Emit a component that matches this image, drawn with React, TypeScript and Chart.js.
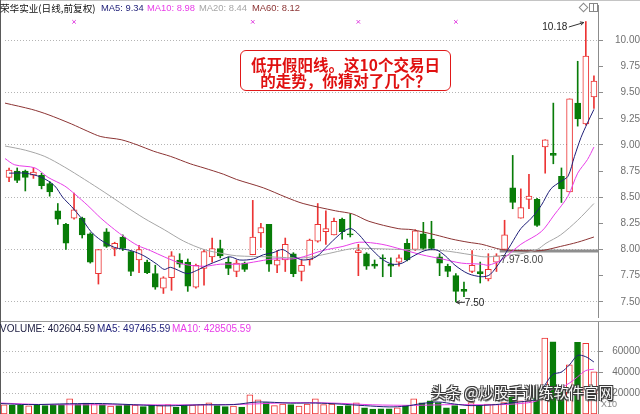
import React, { useEffect, useRef } from 'react';
import { Chart, registerables } from 'chart.js';
Chart.register(...registerables);

// ---------- data ----------
const opens = [8.69, 8.75, 8.75, 8.71, 8.71, 8.63, 8.37, 8.24, 8.30, 8.30, 8.15, 7.77, 8.17, 8.01, 8.12, 7.98, 7.90, 7.88, 7.77, 7.63,
  7.73, 7.90, 7.88, 7.64, 7.82, 7.93, 8.01, 7.88, 7.79, 7.87, 7.95, 8.16, 8.24, 7.85, 7.90, 7.96, 7.79, 7.90, 8.08, 8.17,
  8.14, 8.29, 8.15, 7.97, 7.96, 7.86, 7.92, 7.86, 7.88, 8.06, 8.00, 8.15, 8.10, 7.93, 7.84, 7.75, 7.62, 7.79, 7.79, 7.72,
  7.88, 8.00, 8.59, 8.30, 8.48, 8.48, 8.98, 8.92, 8.70, 8.55, 9.40, 9.20, 9.46];
const highs = [8.78, 8.78, 8.76, 8.78, 8.73, 8.65, 8.44, 8.25, 8.54, 8.31, 8.16, 8.00, 8.20, 8.07, 8.14, 7.98, 8.04, 7.90, 7.85, 7.74,
  7.98, 7.96, 7.91, 7.86, 8.00, 8.11, 8.09, 7.93, 7.90, 7.88, 8.47, 8.25, 8.24, 7.99, 8.11, 7.97, 7.90, 8.10, 8.44, 8.37,
  8.30, 8.30, 8.34, 8.05, 7.97, 7.90, 7.95, 7.92, 7.95, 8.10, 8.19, 8.26, 8.27, 7.96, 7.86, 7.77, 7.69, 7.99, 7.88, 7.96,
  7.96, 8.28, 8.90, 8.58, 8.72, 8.49, 9.05, 9.40, 8.78, 9.44, 9.80, 10.18, 9.66];
const lows = [8.65, 8.64, 8.56, 8.68, 8.58, 8.51, 8.24, 8.00, 8.29, 8.11, 7.87, 7.67, 8.02, 7.94, 7.99, 7.75, 7.78, 7.77, 7.62, 7.58,
  7.61, 7.83, 7.60, 7.63, 7.66, 7.88, 7.92, 7.76, 7.74, 7.79, 7.95, 8.02, 7.79, 7.78, 7.79, 7.74, 7.70, 7.85, 8.07, 8.05,
  8.14, 8.10, 8.12, 7.75, 7.81, 7.82, 7.74, 7.74, 7.84, 7.89, 7.99, 8.00, 8.00, 7.75, 7.74, 7.50, 7.55, 7.78, 7.68, 7.70,
  7.79, 8.00, 8.39, 8.30, 8.39, 8.22, 8.73, 8.82, 8.45, 8.55, 9.18, 9.19, 9.35];
const closes = [8.76, 8.66, 8.69, 8.74, 8.61, 8.55, 8.29, 8.06, 8.38, 8.14, 7.88, 8.00, 8.03, 8.06, 8.01, 7.79, 8.00, 7.78, 7.64, 7.73,
  7.94, 7.86, 7.65, 7.85, 7.98, 8.01, 7.94, 7.82, 7.87, 7.81, 8.12, 8.21, 7.86, 7.90, 8.05, 7.77, 7.85, 8.09, 8.24, 8.20,
  8.27, 8.17, 8.14, 7.99, 7.84, 7.84, 7.91, 7.84, 7.92, 7.90, 8.18, 8.01, 8.01, 7.87, 7.79, 7.60, 7.60, 7.85, 7.77, 7.81,
  7.94, 8.14, 8.45, 8.40, 8.51, 8.23, 9.05, 8.90, 8.58, 9.44, 9.25, 9.85, 9.61];
// volume in axis units (x10)
const volumes = [8700, 8200, 8200, 7800, 8500, 8000, 8500, 9000, 14500, 9500, 10500, 9800, 9000, 7500, 8000, 9000, 8500, 7000, 8500, 8000,
  9000, 6500, 8500, 8500, 9000, 10600, 8000, 7000, 7500, 6500, 18400, 13500, 11000, 8000, 9500, 9000, 7500, 9500, 14500, 9000,
  9500, 7400, 8000, 10600, 5800, 4800, 5000, 5000, 6000, 8000, 14500, 10600, 12700, 11000, 6000, 8000, 4500, 11000, 8000, 9500,
  9500, 11000, 16000, 12500, 12500, 23500, 72500, 69000, 22000, 47000, 68500, 67700, 40260];

// moving-average lines: [day index, value]
const ma5Pts = [[0, 8.73], [2, 8.73], [4, 8.69], [5.6, 8.61], [6.6, 8.50], [7.7, 8.41], [8.9, 8.30], [10.1, 8.17], [11.3, 8.09], [13, 8.02],
  [15, 7.99], [16.6, 7.94], [18.2, 7.86], [19.1, 7.81], [19.9, 7.83], [21.9, 7.77], [23.1, 7.80], [24.4, 7.85], [26, 7.90], [27.2, 7.93],
  [28.4, 7.90], [30.1, 7.91], [31.3, 7.95], [32.5, 7.97], [33.7, 8.00], [34.9, 7.94], [36.2, 7.90], [37.8, 7.93], [39.4, 8.05], [41.1, 8.17],
  [42.1, 8.20], [43.1, 8.14], [44.3, 8.03], [45.9, 7.91], [47.2, 7.86], [48.4, 7.87], [49.6, 7.93], [51.2, 7.99], [52.5, 8.00], [53.7, 7.94],
  [54.9, 7.85], [56.5, 7.77], [58.2, 7.74], [59.2, 7.76], [60.6, 7.90], [61.8, 8.05], [63, 8.20], [64.3, 8.30], [65.5, 8.42], [66.7, 8.58],
  [67.9, 8.65], [68.8, 8.70], [69.6, 8.89], [70.4, 9.07], [71.2, 9.21], [72, 9.34]];
const ma10Pts = [[-0.5, 8.87], [0.7, 8.81], [3.2, 8.78], [4.8, 8.69], [6.8, 8.61], [8.1, 8.53], [9.7, 8.42], [11.3, 8.30], [13, 8.19], [14.2, 8.12],
  [15.8, 8.04], [17.4, 7.99], [19.1, 7.93], [21.5, 7.86], [24, 7.84], [26, 7.86], [28.4, 7.86], [30.1, 7.88], [32.5, 7.91], [34.9, 7.91],
  [36.2, 7.93], [38.6, 7.99], [41.1, 8.03], [43.1, 8.07], [45.9, 8.05], [48.4, 8.00], [50.8, 7.95], [53.3, 7.91], [55.7, 7.87], [58.2, 7.86],
  [59, 7.85], [60.6, 7.90], [63, 8.05], [65.5, 8.17], [67.1, 8.33], [68.8, 8.51], [70, 8.73], [71.2, 8.86], [72, 8.98]];
const ma20Pts = [[-0.5, 8.99], [2, 8.95], [4.4, 8.89], [6.8, 8.79], [9.3, 8.67], [11.7, 8.55], [14.2, 8.42], [16.6, 8.30], [19.1, 8.19], [21.5, 8.08],
  [24, 8.00], [26.4, 7.96], [28, 7.94], [32.1, 7.93], [36.2, 7.92], [38.6, 7.95], [42.3, 8.01], [44.3, 8.01], [48.4, 8.00], [53.3, 7.99],
  [56.9, 7.95], [58.5, 7.93], [60.6, 7.94], [63, 7.96], [65, 8.00], [66.1, 8.06], [67.9, 8.14], [70, 8.28], [72, 8.44]];
const ma60Pts = [[-0.5, 9.40], [2.8, 9.34], [4.8, 9.29], [7.7, 9.20], [9.7, 9.13], [11.3, 9.08], [13.8, 9.05], [15.8, 9.00], [17.8, 8.94], [19.9, 8.89],
  [22.3, 8.82], [24, 8.78], [26.4, 8.72], [28, 8.67], [31.3, 8.59], [34.1, 8.50], [36.2, 8.44], [40.2, 8.37], [42.3, 8.34], [44.3, 8.27],
  [47.9, 8.20], [49.6, 8.19], [52.5, 8.14], [54.5, 8.10], [56.5, 8.07], [58.2, 8.05], [60.6, 8.00], [62.6, 7.99], [65.5, 7.99], [67.9, 8.03],
  [70, 8.07], [72, 8.12]];
const volMa5Pts = [[-0.5, 10000], [3, 9000], [8, 9800], [12, 10000], [17, 8500], [20, 7800], [24, 8800], [28, 9000], [31, 11500], [35, 10400],
  [38, 10500], [41, 9500], [44, 8000], [47, 6800], [49, 7500], [51, 10000], [53, 11500], [55, 9500], [57, 8000], [60, 9000],
  [62, 10800], [63.5, 12000], [65, 14500], [66, 27500], [67, 38000], [68, 40000], [69, 46800], [70, 56000], [71, 54800], [72, 49750]];
const volMa10Pts = [[-0.5, 10500], [5, 9000], [15, 8800], [25, 8800], [30, 9500], [35, 10800], [40, 10500], [45, 8800], [50, 8300], [55, 9000],
  [60, 8800], [63, 10000], [65, 12500], [66, 18500], [67, 24000], [68, 25500], [69, 29500], [70, 35500], [71, 41500], [72, 42850]];

const priceTicks = [7.5, 7.75, 8.0, 8.25, 8.5, 8.75, 9.0, 9.25, 9.5, 9.75, 10.0];
const volumeTicks = [20000, 40000, 60000];
const markerDays = [8, 30, 43, 55];
const band = { from: 60.4, lo: 7.97, hi: 8.0 };
const highNote = { day: 71, price: 10.18 };
const lowNote = { day: 55, price: 7.5 };

const stockName = '荣华实业(日线,前复权)';
const maNames = ['MA5', 'MA10', 'MA20', 'MA60'];
const maLast = [9.34, 8.98, 8.44, 8.12];
const volLast = [402604.59, 497465.59, 428505.59];
const noteLines = ['低开假阳线。这10个交易日', '的走势，你猜对了几个？'];
const watermark = '头条 @炒股手训练软件官网';

// ---------- style ----------
const FONT = '"Liberation Sans", Arial, sans-serif';
const CJK = '"Noto Sans CJK SC", "Liberation Sans", sans-serif';
const RED = '#ec3434';
const GREEN = '#087c08';
const C_MA5 = '#1f1f78';
const C_MA10 = '#e83ee8';
const C_MA20 = '#a6a6a6';
const C_MA60 = '#8c3434';
const GRID = '#b4b4b4';
const AXIS = '#8c8c8c';

const up = (i: number) => closes[i] >= opens[i];
const pts = (a: number[][]) => a.map(([x, y]) => ({ x, y }));

function arrow(ctx: CanvasRenderingContext2D, x1: number, y1: number, x2: number, y2: number) {
  ctx.beginPath();
  ctx.moveTo(x1, y1);
  ctx.lineTo(x2, y2);
  const a = Math.atan2(y2 - y1, x2 - x1);
  const L = 4;
  ctx.moveTo(x2, y2);
  ctx.lineTo(x2 - L * Math.cos(a - 0.45), y2 - L * Math.sin(a - 0.45));
  ctx.moveTo(x2, y2);
  ctx.lineTo(x2 - L * Math.cos(a + 0.45), y2 - L * Math.sin(a + 0.45));
  ctx.stroke();
}

const notesPlugin = {
  id: 'notes',
  afterDatasetsDraw(chart: any) {
    const { ctx } = chart;
    const xs = chart.scales.x;
    const ys = chart.scales.y;
    ctx.save();
    ctx.font = `10px ${FONT}`;
    ctx.strokeStyle = '#333';
    ctx.fillStyle = '#222';
    ctx.lineWidth = 1;
    ctx.textBaseline = 'middle';
    const hx = xs.getPixelForValue(highNote.day);
    const hy = ys.getPixelForValue(highNote.price);
    arrow(ctx, hx - 17, hy + 5.5, hx - 2, hy + 1);
    ctx.textAlign = 'right';
    ctx.fillText(highNote.price.toFixed(2), hx - 18.5, hy + 6);
    const lx = xs.getPixelForValue(lowNote.day);
    const ly = ys.getPixelForValue(lowNote.price);
    arrow(ctx, lx + 9, ly + 0.5, lx + 0.5, ly + 0.5);
    ctx.textAlign = 'left';
    ctx.fillText(lowNote.price.toFixed(2), lx + 9, ly + 1);
    const bx = xs.getPixelForValue(band.from);
    const by = ys.getPixelForValue(band.lo);
    ctx.fillStyle = '#444';
    ctx.fillText(`${band.lo.toFixed(2)}-${band.hi.toFixed(2)}`, bx + 1, by + 7.5);
    ctx.restore();
  },
};

const xAxis = {
  type: 'linear', min: -0.5, max: 72.5, display: false, offset: false, grid: { offset: false },
};

function priceConfig(): any {
  const isHalf = (v: number) => Math.abs(v * 2 - Math.round(v * 2)) < 1e-6;
  const line = (data: number[][], color: string) => ({
    type: 'line', yAxisID: 'y', data: pts(data), borderColor: color, borderWidth: 1, pointRadius: 0, tension: 0.3, order: 0,
  });
  return {
    type: 'bar',
    data: {
      datasets: [
        line(ma5Pts, C_MA5),
        line(ma10Pts, C_MA10),
        line(ma20Pts, C_MA20),
        line(ma60Pts, C_MA60),
        {
          type: 'line', yAxisID: 'yMark', data: markerDays.map((d) => ({ x: d, y: 0.946 })), showLine: false,
          pointStyle: 'crossRot', pointRadius: 2.5, pointBorderColor: '#e040e0', pointBorderWidth: 1, order: 0,
        },
        {
          type: 'bar', yAxisID: 'y', data: opens.map((o, i) => ({ x: i, y: [o, closes[i]] })), grouped: false,
          backgroundColor: opens.map((_, i) => (up(i) ? '#ffffff' : GREEN)),
          borderColor: opens.map((_, i) => (up(i) ? RED : GREEN)),
          borderWidth: 1, borderSkipped: false, maxBarThickness: 6, minBarLength: 1,
          categoryPercentage: 1, barPercentage: 1, order: 1,
        },
        {
          type: 'bar', yAxisID: 'y', data: lows.map((l, i) => ({ x: i, y: [l, highs[i]] })), grouped: false,
          backgroundColor: lows.map((_, i) => (up(i) ? RED : GREEN)), borderWidth: 0,
          maxBarThickness: 1, categoryPercentage: 1, barPercentage: 1, order: 2,
        },
        {
          type: 'line', yAxisID: 'y',
          data: [{ x: band.from, y: (band.lo + band.hi) / 2 }, { x: 72.5, y: (band.lo + band.hi) / 2 }],
          borderColor: '#8e8e8e', borderWidth: 3, pointRadius: 0, order: 3,
        },
      ],
    },
    options: {
      responsive: false, animation: false, events: [],
      layout: { padding: 0 },
      plugins: { legend: { display: false }, tooltip: { enabled: false } },
      scales: {
        x: xAxis,
        y: {
          type: 'linear', position: 'right', min: 7.355, max: 10.338, beginAtZero: false,
          afterBuildTicks: (s: any) => { s.ticks = priceTicks.map((v) => ({ value: v })); },
          afterFit: (s: any) => { s.width = 42; s.paddingTop = 0; s.paddingBottom = 0; },
          ticks: {
            color: '#707070', font: { size: 10, family: FONT }, padding: 9, crossAlign: 'far',
            callback: (v: any) => Number(v).toFixed(2),
          },
          grid: {
            color: (c: any) => (c.tick && isHalf(c.tick.value) ? GRID : 'rgba(0,0,0,0)'),
            tickColor: AXIS, tickLength: 5, lineWidth: 1,
          },
          border: { display: true, color: AXIS, dash: [1, 2] },
        },
        yMark: { type: 'linear', min: 0, max: 1, display: false },
      },
    },
    plugins: [notesPlugin],
  };
}

function volConfig(): any {
  return {
    type: 'bar',
    data: {
      datasets: [
        { type: 'line', yAxisID: 'y', data: pts(volMa5Pts), borderColor: C_MA5, borderWidth: 1, pointRadius: 0, tension: 0.3, order: 0 },
        { type: 'line', yAxisID: 'y', data: pts(volMa10Pts), borderColor: C_MA10, borderWidth: 1, pointRadius: 0, tension: 0.3, order: 0 },
        {
          type: 'bar', yAxisID: 'y', data: volumes.map((v, i) => ({ x: i, y: v })), grouped: false,
          backgroundColor: volumes.map((_, i) => (up(i) ? '#ffffff' : GREEN)),
          borderColor: volumes.map((_, i) => (up(i) ? RED : GREEN)),
          borderWidth: 1, borderSkipped: false, maxBarThickness: 6,
          categoryPercentage: 1, barPercentage: 1, order: 1,
        },
      ],
    },
    options: {
      responsive: false, animation: false, events: [],
      layout: { padding: 0 },
      plugins: { legend: { display: false }, tooltip: { enabled: false } },
      scales: {
        x: xAxis,
        y: {
          type: 'linear', position: 'right', min: 0, max: 88000,
          afterBuildTicks: (s: any) => { s.ticks = volumeTicks.map((v) => ({ value: v })); },
          afterFit: (s: any) => { s.width = 42; s.paddingTop = 0; s.paddingBottom = 0; },
          ticks: {
            color: '#707070', font: { size: 10, family: FONT }, padding: 4, crossAlign: 'far',
            callback: (v: any) => String(v),
          },
          grid: { color: GRID, tickColor: AXIS, tickLength: 5, lineWidth: 1 },
          border: { display: true, color: AXIS, dash: [1, 2] },
        },
      },
    },
  };
}

export default function App() {
  const priceRef = useRef<HTMLCanvasElement>(null);
  const volRef = useRef<HTMLCanvasElement>(null);

  useEffect(() => {
    const pc = new Chart(priceRef.current as HTMLCanvasElement, priceConfig());
    const vc = new Chart(volRef.current as HTMLCanvasElement, volConfig());
    return () => { pc.destroy(); vc.destroy(); };
  }, []);

  const maColors = [C_MA5, C_MA10, C_MA20, C_MA60];
  const maLeft = [101, 147, 199, 252];
  const txt = { position: 'absolute' as const, whiteSpace: 'nowrap' as const, fontSize: 10, lineHeight: '12px', fontFamily: FONT };

  return (
    <div style={{ position: 'fixed', left: 0, top: 0, width: 640, height: 414, background: '#fff', overflow: 'hidden' }}>
      <canvas ref={priceRef} width={640} height={322} style={{ position: 'absolute', left: 0, top: 0, display: 'block' }} />
      <canvas ref={volRef} width={640} height={92} style={{ position: 'absolute', left: 0, top: 322, display: 'block' }} />
      {/* frame lines */}
      <div style={{ position: 'absolute', left: 0, top: 0, width: 640, height: 1, background: '#c4c4c4' }} />
      <div style={{ position: 'absolute', left: 0, top: 321, width: 640, height: 1, background: '#9a9a9a' }} />
      <div style={{ position: 'absolute', left: 0, top: 0, width: 1, height: 414, background: '#5a5a5a' }} />
      {/* header */}
      <div style={{ ...txt, left: 0, top: 2, color: '#111', fontFamily: CJK, fontSize: 9.6 }}>{stockName}</div>
      {maNames.map((n, i) => (
        <div key={n} style={{ ...txt, left: maLeft[i], top: 2, color: maColors[i], fontSize: 9.4 }}>{`${n}: ${maLast[i].toFixed(2)}`}</div>
      ))}
      {/* top-right icons */}
      <div style={{ position: 'absolute', left: 580, top: 4, width: 5, height: 5, border: '1px solid #888', transform: 'rotate(45deg)' }} />
      <div style={{ position: 'absolute', left: 589, top: 3, width: 7, height: 7, border: '1px solid #888' }}>
        <div style={{ position: 'absolute', left: 3, top: 0, width: 1, height: 7, background: '#888' }} />
      </div>
      {/* volume header */}
      <div style={{ ...txt, left: 0, top: 323, color: '#1c1c40' }}>{`VOLUME: ${volLast[0].toFixed(2)}`}</div>
      <div style={{ ...txt, left: 97, top: 323, color: C_MA5 }}>{`MA5: ${volLast[1].toFixed(2)}`}</div>
      <div style={{ ...txt, left: 172, top: 323, color: C_MA10 }}>{`MA10: ${volLast[2].toFixed(2)}`}</div>
      <div style={{ ...txt, left: 601, top: 398, fontSize: 9, color: '#888' }}>X10</div>
      {/* callout box */}
      <div style={{
        position: 'absolute', left: 240, top: 50, width: 209, border: '1.5px solid #e01818', borderRadius: 6,
        background: '#fff', color: '#e01010', fontFamily: CJK, fontWeight: 700, fontSize: 15.5, lineHeight: '16px',
        textAlign: 'center', paddingTop: 5, boxSizing: 'content-box' as const, height: 34,
      }}>
        {noteLines.map((l) => (<div key={l} style={{ whiteSpace: 'nowrap' }}>{l}</div>))}
      </div>
      {/* watermark */}
      <div style={{
        position: 'absolute', left: 431, top: 383, fontFamily: CJK, fontSize: 15, lineHeight: '18px', color: '#fafafa',
        whiteSpace: 'nowrap',
        textShadow: '1px 1px 0 #3a3a3a, -1px -1px 0 #3a3a3a, 1px -1px 0 #3a3a3a, -1px 1px 0 #3a3a3a, 1px 2px 1px #555',
      }}>{watermark}</div>
    </div>
  );
}
